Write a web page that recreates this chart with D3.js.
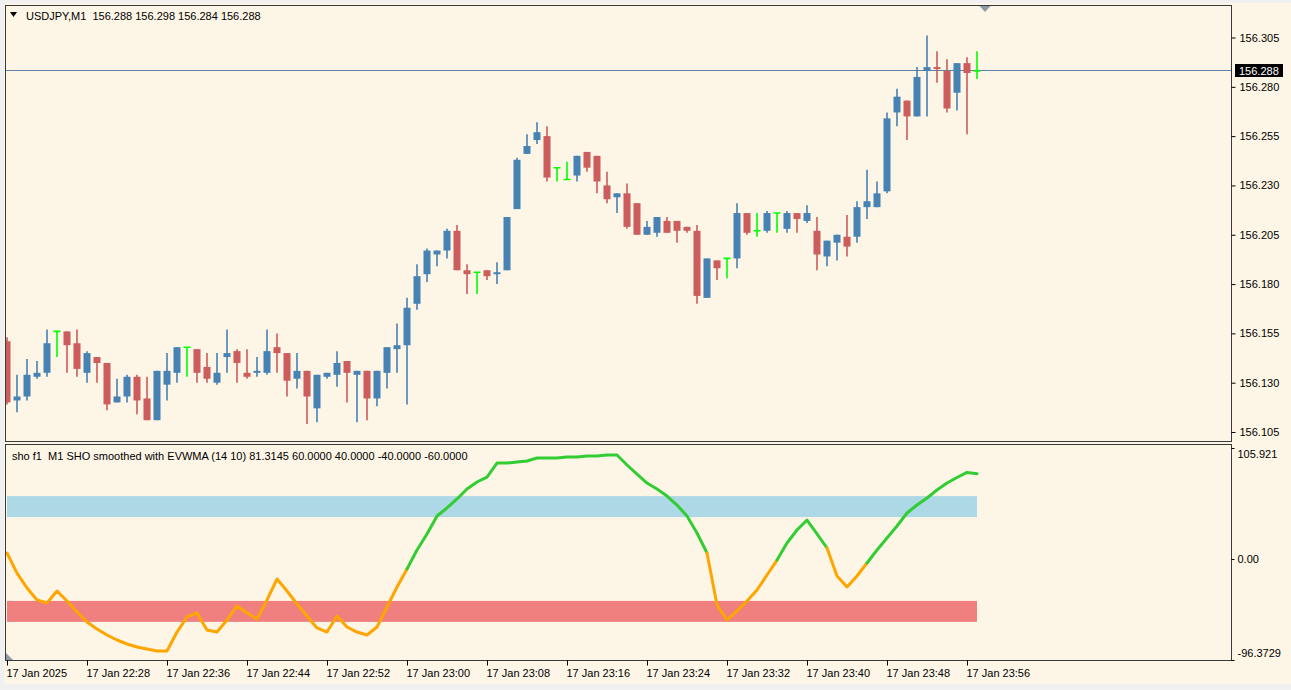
<!DOCTYPE html>
<html lang="en">
<head>
<meta charset="utf-8">
<title>USDJPY,M1</title>
<script src="https://d3js.org/d3.v7.min.js"></script>
<style>
  body { margin: 0; background: #f0f0f0; overflow: hidden; }
  svg text { font-family: 'Liberation Sans', Arial, sans-serif; font-size: 11px; fill: #000; }
</style>
</head>
<body>
<script>
// window size
var w = 1291;
var h = 690;

// bars: one per minute, 17 Jan 2025 22:20 .. 23:57
var startTime = new Date(2025, 0, 17, 22, 20);

var open = [156.151,156.121,156.123,156.133,156.135,156.156,156.156,156.150,156.135,156.143,
            156.140,156.120,156.123,156.133,156.122,156.111,156.129,156.135,156.148,156.147,
            156.138,156.130,156.143,156.146,156.135,156.135,156.135,156.148,156.145,156.132,
            156.136,156.117,156.133,156.134,156.141,156.134,156.136,156.122,156.135,156.147,
            156.149,156.170,156.185,156.195,156.197,156.207,156.187,156.186,156.187,156.185,
            156.187,156.218,156.246,156.253,156.255,156.239,156.233,156.235,156.247,156.245,
            156.230,156.224,156.226,156.221,156.205,156.206,156.212,156.212,156.209,156.207,
            156.173,156.192,156.193,156.193,156.216,156.207,156.207,156.216,156.208,156.216,
            156.212,156.207,156.194,156.201,156.204,156.204,156.219,156.219,156.227,156.267,
            156.273,156.265,156.288,156.290,156.288,156.277,156.292,156.288];
var high = [156.153,156.134,156.142,156.141,156.157,156.156,156.156,156.157,156.146,156.143,
            156.140,156.132,156.134,156.134,156.133,156.136,156.145,156.148,156.148,156.147,
            156.145,156.145,156.157,156.147,156.147,156.143,156.157,156.155,156.145,156.145,
            156.136,156.134,156.135,156.146,156.141,156.136,156.136,156.136,156.148,156.160,
            156.173,156.190,156.198,156.197,156.208,156.210,156.190,156.186,156.187,156.191,
            156.214,156.244,156.256,156.262,156.260,156.239,156.242,156.245,156.247,156.245,
            156.237,156.226,156.231,156.221,156.212,156.214,156.214,156.212,156.209,156.210,
            156.193,156.192,156.193,156.221,156.216,156.216,156.217,156.216,156.217,156.216,
            156.220,156.214,156.202,156.205,156.215,156.222,156.238,156.232,156.267,156.279,
            156.273,156.290,156.306,156.298,156.294,156.292,156.295,156.298];
var low  = [156.119,156.115,156.121,156.132,156.133,156.143,156.135,156.133,156.130,156.130,
            156.116,156.120,156.120,156.114,156.111,156.111,156.121,156.130,156.133,156.130,
            156.130,156.129,156.135,156.130,156.132,156.133,156.134,156.135,156.123,156.127,
            156.109,156.110,156.132,156.128,156.120,156.110,156.111,156.118,156.127,156.135,
            156.119,156.167,156.181,156.189,156.193,156.187,156.175,156.175,156.182,156.180,
            156.187,156.218,156.246,156.251,156.232,156.232,156.233,156.232,156.237,156.226,
            156.221,156.216,156.208,156.205,156.205,156.204,156.206,156.201,156.206,156.170,
            156.173,156.182,156.183,156.188,156.205,156.204,156.206,156.206,156.206,156.206,
            156.211,156.187,156.189,156.192,156.194,156.201,156.213,156.219,156.226,156.260,
            156.253,156.265,156.265,156.282,156.267,156.268,156.256,156.284];
var close = [156.120,156.123,156.134,156.135,156.150,156.156,156.149,156.137,156.145,156.140,
             156.119,156.123,156.133,156.121,156.111,156.136,156.136,156.148,156.148,156.135,
             156.132,156.135,156.145,156.140,156.133,156.136,156.146,156.145,156.131,156.136,
             156.123,156.134,156.135,156.140,156.135,156.136,156.122,156.136,156.148,156.149,
             156.168,156.184,156.197,156.197,156.207,156.187,156.185,156.186,156.184,156.186,
             156.214,156.243,156.250,156.257,156.234,156.239,156.233,156.245,156.239,156.232,
             156.223,156.226,156.209,156.205,156.209,156.214,156.206,156.207,156.207,156.174,
             156.193,156.188,156.193,156.216,156.206,156.207,156.216,156.216,156.216,156.213,
             156.216,156.195,156.202,156.205,156.199,156.219,156.222,156.226,156.264,156.275,
             156.265,156.285,156.290,156.289,156.269,156.292,156.287,156.288];

// SHO smoothed with EVWMA, one value per bar
var sho = [5.7,-13.4,-27.7,-39.1,-42.0,-30.5,-40.1,-50.6,-60.1,-66.8,
           -72.5,-77.3,-81.1,-84.0,-85.9,-87.8,-87.8,-69.7,-55.3,-51.5,
           -67.7,-69.7,-58.2,-44.8,-51.5,-57.3,-39.1,-19.1,-30.5,-42.9,
           -54.4,-65.8,-69.7,-54.4,-64.9,-69.7,-72.5,-64.9,-45.8,-26.7,
           -9.5,8.6,23.9,41.0,48.7,57.3,66.8,73.5,78.2,91.6,
           91.6,92.6,93.5,96.4,96.4,96.4,97.3,97.3,98.3,98.3,
           99.2,99.2,89.7,81.1,72.5,66.8,60.1,51.5,41.0,24.8,
           5.7,-43.9,-58.2,-49.6,-40.1,-29.6,-15.3,-1.0,15.3,27.7,
           37.2,23.9,10.5,-16.2,-26.7,-16.2,-3.8,8.6,20.0,31.5,
           43.9,51.5,58.2,65.8,72.5,77.8,82.6,81.3145];
// 1 = green state, 0 = orange state
var shoState = [0,0,0,0,0,0,0,0,0,0, 0,0,0,0,0,0,0,0,0,0,
                0,0,0,0,0,0,0,0,0,0, 0,0,0,0,0,0,0,0,0,0,
                0,1,1,1,1,1,1,1,1,1, 1,1,1,1,1,1,1,1,1,1,
                1,1,1,1,1,1,1,1,1,1, 1,0,0,0,0,0,0,0,1,1,
                1,1,1,0,0,0,0,1,1,1, 1,1,1,1,1,1,1,1];
var shoLevels = [60, 40, -40, -60];

// axis ticks
var priceTicks = [156.105, 156.130, 156.155, 156.180, 156.205, 156.230, 156.255, 156.280, 156.305];
var shoTicks = [105.921, 0, -96.3729];
var shoTickLabels = ["105.921", "0.00", "-96.3729"];
var timeTickLabels = ["17 Jan 2025", "17 Jan 22:28", "17 Jan 22:36", "17 Jan 22:44", "17 Jan 22:52",
                      "17 Jan 23:00", "17 Jan 23:08", "17 Jan 23:16", "17 Jan 23:24", "17 Jan 23:32",
                      "17 Jan 23:40", "17 Jan 23:48", "17 Jan 23:56"];
var bidPrice = 156.288;

// panels
var mainTop = 5.5, mainBottom = 441.5, panelLeft = 5.5, panelRight = 1231.5;
var subTop = 444.5, subBottom = 660.5;

// plain hyphen for negative numbers, like the terminal prints them
var fmt = d3.formatLocale({ decimal: ".", thousands: ",", grouping: [3], currency: ["", ""], minus: "-" }).format;

var minute = 60000;
var times = open.map(function(d, i) { return new Date(startTime.getTime() + i * minute); });
var tickTimes = timeTickLabels.map(function(d, i) { return new Date(startTime.getTime() + i * 8 * minute); });

var xScale = d3.scaleTime()
    .domain([times[0], times[times.length - 1]])
    .range([7, 977]);

var yScale = d3.scaleLinear()
    .domain([156.105, 156.305])
    .range([432, 37.5]);

var shoScale = d3.scaleLinear()
    .domain([-96.3729, 105.921])
    .range([660, 448]);

var svg = d3.select("body")
    .append("svg")
    .attr("width", w)
    .attr("height", h);

// window frame
svg.append("rect").attr("width", w).attr("height", h).attr("fill", "#f0f0f0");
svg.append("rect").attr("x", 4).attr("y", 3).attr("width", w - 4).attr("height", 681).attr("fill", "#fdf5e6");

var defs = svg.append("defs");
defs.append("clipPath").attr("id", "clipMain").append("rect")
    .attr("x", panelLeft).attr("y", mainTop).attr("width", panelRight - panelLeft).attr("height", mainBottom - mainTop);
defs.append("clipPath").attr("id", "clipSub").append("rect")
    .attr("x", panelLeft).attr("y", subTop).attr("width", panelRight - panelLeft).attr("height", subBottom - subTop);

// ---- main panel ----
var main = svg.append("g").attr("clip-path", "url(#clipMain)");

// bid line
var bidY = Math.round(yScale(bidPrice)) - 0.5;
main.append("line")
    .attr("x1", panelLeft).attr("x2", panelRight)
    .attr("y1", bidY).attr("y2", bidY)
    .attr("stroke", "#5f7fa3").attr("stroke-width", 1);

function candleColor(i) {
    if (close[i] > open[i]) return "#4682b4";
    if (close[i] < open[i]) return "#cd5c5c";
    return "#00ff00";
}

var candles = main.selectAll("g.candle")
    .data(times)
    .enter()
    .append("g")
    .attr("class", "candle");

// wicks
candles.append("line")
    .attr("x1", function(d) { return xScale(d); })
    .attr("x2", function(d) { return xScale(d); })
    .attr("y1", function(d, i) { return yScale(high[i]); })
    .attr("y2", function(d, i) { return yScale(low[i]); })
    .attr("stroke", function(d, i) { return candleColor(i); })
    .attr("stroke-width", 1.6);

// bodies
candles.filter(function(d, i) { return open[i] !== close[i]; })
    .append("rect")
    .attr("x", function(d) { return xScale(d) - 3.5; })
    .attr("width", 7)
    .attr("y", function(d) { var i = times.indexOf(d); return yScale(Math.max(open[i], close[i])); })
    .attr("height", function(d) { var i = times.indexOf(d); return Math.max(1, Math.abs(yScale(open[i]) - yScale(close[i]))); })
    .attr("fill", function(d) { return candleColor(times.indexOf(d)); });

// doji bars
candles.filter(function(d, i) { return open[i] === close[i]; })
    .append("line")
    .attr("x1", function(d) { return xScale(d) - 3.5; })
    .attr("x2", function(d) { return xScale(d) + 3.5; })
    .attr("y1", function(d) { return yScale(open[times.indexOf(d)]); })
    .attr("y2", function(d) { return yScale(open[times.indexOf(d)]); })
    .attr("stroke", "#00ff00")
    .attr("stroke-width", 1.6);

// shift marker at top
svg.append("path")
    .attr("d", "M979,5.5 L991,5.5 L985,12 Z")
    .attr("fill", "#8e9aa6");

// title
svg.append("path").attr("d", "M10,12 L17,12 L13.5,17 Z").attr("fill", "#000");
svg.append("text")
    .attr("x", 26).attr("y", 20)
    .style("white-space", "pre")
    .text("USDJPY,M1  " + [open[open.length - 1], high[high.length - 1], low[low.length - 1], close[close.length - 1]]
        .map(fmt(".3f")).join(" "));

// ---- indicator panel ----
var sub = svg.append("g").attr("clip-path", "url(#clipSub)");

sub.append("rect")
    .attr("x", xScale(times[0])).attr("width", xScale(times[times.length - 1]) - xScale(times[0]))
    .attr("y", shoScale(shoLevels[0])).attr("height", shoScale(shoLevels[1]) - shoScale(shoLevels[0]))
    .attr("fill", "#add8e6");
sub.append("rect")
    .attr("x", xScale(times[0])).attr("width", xScale(times[times.length - 1]) - xScale(times[0]))
    .attr("y", shoScale(shoLevels[2])).attr("height", shoScale(shoLevels[3]) - shoScale(shoLevels[2]))
    .attr("fill", "#f08080");

// split the line into runs of one colour
var runs = [];
for (var i = 1; i < sho.length; i++) {
    if (runs.length === 0 || runs[runs.length - 1].state !== shoState[i]) {
        runs.push({ state: shoState[i], idx: [i - 1, i] });
    } else {
        runs[runs.length - 1].idx.push(i);
    }
}

var shoLine = d3.line()
    .x(function(i) { return xScale(times[i]); })
    .y(function(i) { return shoScale(sho[i]); });

sub.selectAll("path.sho")
    .data(runs)
    .enter()
    .append("path")
    .attr("class", "sho")
    .attr("d", function(r) { return shoLine(r.idx); })
    .attr("fill", "none")
    .attr("stroke", function(r) { return r.state ? "#32cd32" : "#ffa500"; })
    .attr("stroke-width", 3)
    .attr("stroke-linejoin", "round")
    .attr("stroke-linecap", "round");

svg.append("text")
    .attr("x", 12).attr("y", 460)
    .style("white-space", "pre")
    .text("sho f1  M1 SHO smoothed with EVWMA (14 10) " + fmt(".4f")(sho[sho.length - 1]) + " " +
          shoLevels.map(fmt(".4f")).join(" "));

// corner marker
svg.append("path").attr("d", "M6,653 L6,660 L13,660 Z").attr("fill", "#8e9aa6");

// panel borders
svg.append("rect")
    .attr("x", panelLeft).attr("y", mainTop)
    .attr("width", panelRight - panelLeft).attr("height", mainBottom - mainTop)
    .attr("fill", "none").attr("stroke", "#3a3a3a");
svg.append("rect")
    .attr("x", panelLeft).attr("y", subTop)
    .attr("width", panelRight - panelLeft).attr("height", subBottom - subTop)
    .attr("fill", "none").attr("stroke", "#3a3a3a");

// ---- axes ----
var priceAxis = svg.append("g")
    .attr("transform", "translate(" + panelRight + ",0)")
    .call(d3.axisRight(yScale).tickValues(priceTicks).tickSize(4).tickPadding(4).tickFormat(fmt(".3f")));

var shoAxis = svg.append("g")
    .attr("transform", "translate(" + panelRight + ",0)")
    .call(d3.axisRight(shoScale).tickValues(shoTicks).tickSize(3).tickPadding(3)
        .tickFormat(function(d, i) { return shoTickLabels[i]; }));
shoAxis.selectAll(".tick text")
    .attr("dy", function(d, i) { return i === 0 ? "0.9em" : (i === 2 ? "-0.3em" : "0.32em"); });

var timeAxis = svg.append("g")
    .attr("transform", "translate(0," + subBottom + ")")
    .call(d3.axisBottom(xScale).tickValues(tickTimes).tickSize(5).tickPadding(4)
        .tickFormat(function(d, i) { return timeTickLabels[i]; }));
timeAxis.selectAll(".tick text").attr("text-anchor", "start").attr("x", -1);

[priceAxis, shoAxis, timeAxis].forEach(function(g) {
    g.select(".domain").remove();
    g.attr("font-family", null).attr("font-size", null);
    g.selectAll(".tick line").attr("stroke", "#000");
});

// current price label
svg.append("rect")
    .attr("x", 1235).attr("y", bidY - 6.5).attr("width", 48).attr("height", 13)
    .attr("fill", "#000");
svg.append("text")
    .attr("x", 1239).attr("y", bidY + 4)
    .style("fill", "#fff")
    .text(fmt(".3f")(bidPrice));
</script>
</body>
</html>
